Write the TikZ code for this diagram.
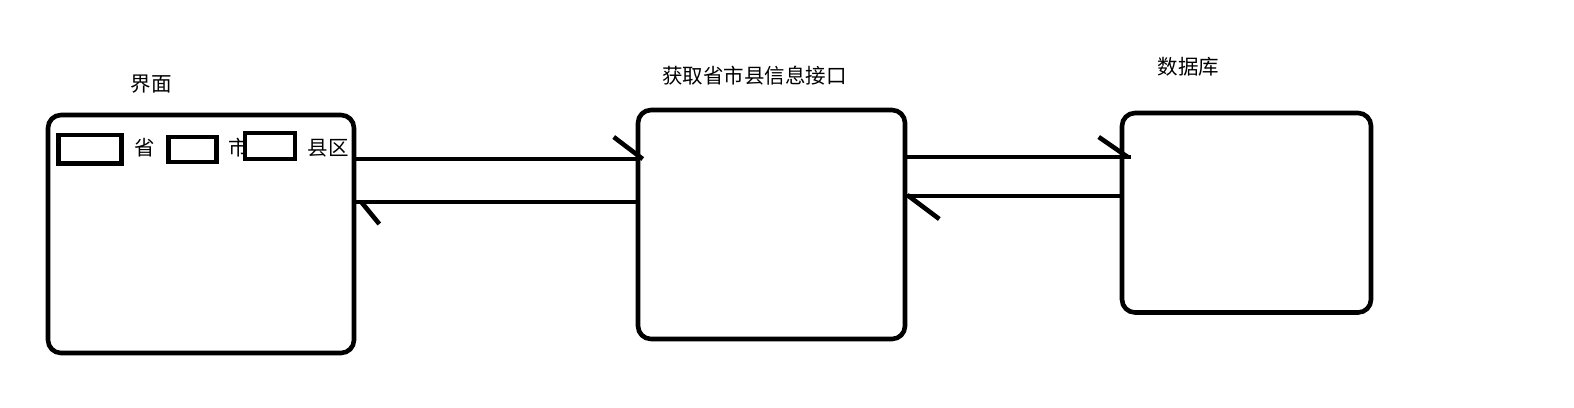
\documentclass[tikz,border=0pt]{standalone}
\usepackage{fontspec}
\newfontfamily\cjk{Noto Sans CJK SC}
\usetikzlibrary{calc}
\begin{document}
\begin{tikzpicture}[x=1pt,y=-1pt,
  bigbox/.style={draw, line width=4.6pt, rounded corners=13pt, inner sep=0pt, fill=white},
  smallbox/.style={draw, line width=4.7pt, inner sep=0pt, fill=white},
  lbl/.style={inner sep=0pt, font=\cjk\fontsize{20.5}{24}\selectfont, text height=0.88em, text depth=0.12em, yshift=-5pt},
  conn/.style={line width=4.6pt},
  tick/.style={line width=4.6pt}]
\useasboundingbox (0,0) rectangle (1574,407);
% big boxes
\node[bigbox, minimum width=306pt, minimum height=238pt] (b1) at (201,234) {};
\node[bigbox, minimum width=267pt, minimum height=229pt] (b2) at (771.5,224.5) {};
\node[bigbox, minimum width=249pt, minimum height=199.5pt] (b3) at (1246.5,212.75) {};
% titles
\node[lbl] (t1) at (151,83) {界面};
\node[lbl] (t2) at (754.5,75) {获取省市县信息接口};
\node[lbl] (t3) at (1188.5,66) {数据库};
% inner labels and fields
\node[lbl] (lsheng) at (145,147) {省};
\node[lbl] (lshi) at (239,147) {市};
\node[lbl] (lxian) at (328,147) {县区};
\node[smallbox, minimum width=62.6pt, minimum height=28.3pt] (r1) at (90,149) {};
\node[smallbox, minimum width=48pt, minimum height=25pt] (r2) at (192.5,149.5) {};
\node[smallbox, minimum width=50pt, minimum height=26pt] (r3) at (270,146) {};
% connector end points
\coordinate (a1s) at (b1.east |- 0,159);
\coordinate (a1e) at (b2.west |- 0,159);
\coordinate (a2s) at (b2.west |- 0,202);
\coordinate (a2e) at (b1.east |- 0,202);
\coordinate (a3s) at (b2.east |- 0,157);
\coordinate (a3e) at ($(b3.west |- 0,157)+(11,0)$);
\coordinate (a4s) at (b3.west |- 0,196);
\coordinate (a4e) at (b2.east |- 0,196);
% connectors
\draw[conn] (a1s) -- (a1e);
\draw[conn] (a2s) -- (a2e);
\draw[conn] (a3s) -- (a3e);
\draw[conn] (a4s) -- (a4e);
% half arrow heads
\draw[tick] ($(a1e)+(-22,-22)$) -- ($(a1e)+(7,0)$);
\draw[tick] ($(a2e)+(5,0)$) -- ($(a2e)+(23,22)$);
\draw[tick] ($(a3e)+(-32,-20)$) -- ($(a3e)+(-3,0)$);
\draw[tick] ($(a4e)+(0,-1)$) -- ($(a4e)+(32,23)$);
\end{tikzpicture}
\end{document}
